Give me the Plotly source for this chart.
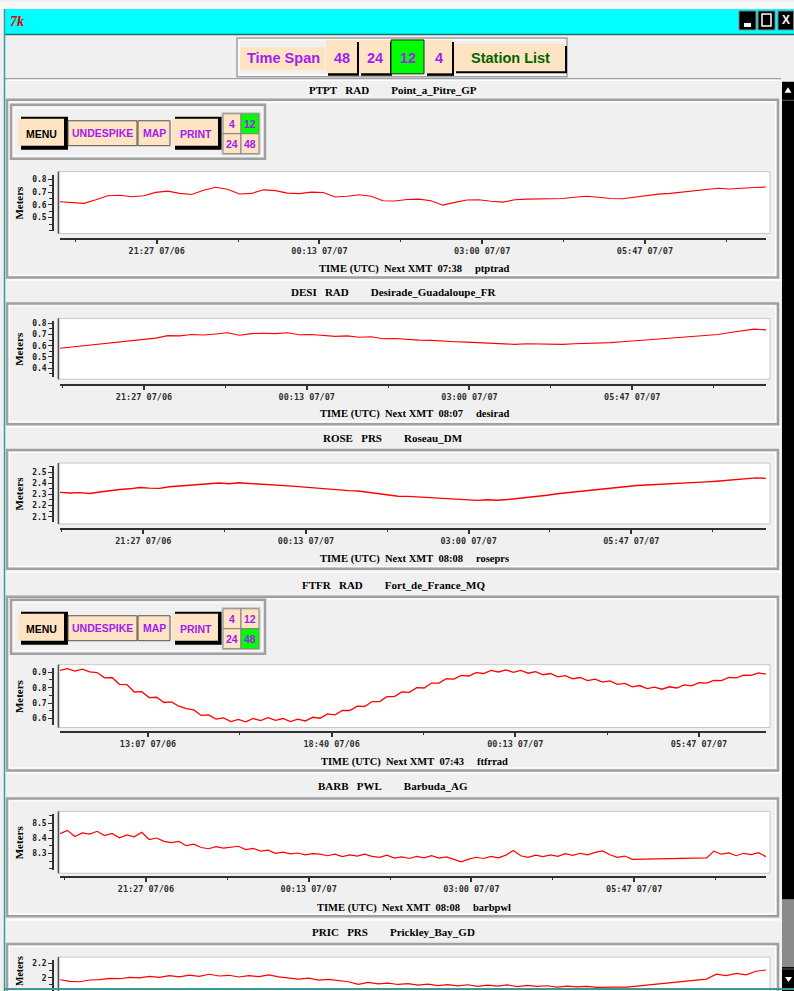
import plotly.graph_objects as go
import pandas as pd

# ---------------- data ----------------
station_codes = ["PTPT", "DESI", "ROSE", "FTFR", "BARB", "PRIC"]
sensor_types = ["RAD", "RAD", "PRS", "RAD", "PWL", "PRS"]
station_names = ["Point_a_Pitre_GP", "Desirade_Guadaloupe_FR", "Roseau_DM",
                 "Fort_de_France_MQ", "Barbuda_AG", "Prickley_Bay_GD"]
next_xmt = ["07:38", "08:07", "08:08", "07:43", "08:08", ""]
file_ids = ["ptptrad", "desirad", "roseprs", "ftfrrad", "barbpwl", ""]

time_start = ["2024-07-06 19:48:00", "2024-07-06 20:01:00", "2024-07-06 20:01:40",
              "2024-07-06 10:27:20", "2024-07-06 19:59:00", "2024-07-06 19:59:00"]
time_end = ["2024-07-07 07:51:00", "2024-07-07 08:04:00", "2024-07-07 08:05:00",
            "2024-07-07 07:48:40", "2024-07-07 08:02:00", "2024-07-07 08:02:00"]

ptpt_m = [0.625, 0.618, 0.612, 0.640, 0.672, 0.676, 0.664, 0.672, 0.698, 0.708,
          0.690, 0.682, 0.715, 0.738, 0.722, 0.685, 0.690, 0.718, 0.712, 0.692,
          0.688, 0.700, 0.697, 0.662, 0.668, 0.680, 0.668, 0.632, 0.630, 0.642,
          0.645, 0.632, 0.598, 0.620, 0.638, 0.640, 0.628, 0.622, 0.640, 0.645,
          0.646, 0.648, 0.650, 0.660, 0.668, 0.660, 0.650, 0.648, 0.660, 0.672,
          0.684, 0.690, 0.700, 0.712, 0.722, 0.730, 0.725, 0.728, 0.736, 0.740]

desi_m = [0.578, 0.590, 0.598, 0.612, 0.622, 0.632, 0.648, 0.656, 0.668, 0.690,
          0.688, 0.700, 0.696, 0.705, 0.716, 0.694, 0.708, 0.712, 0.708, 0.716,
          0.698, 0.700, 0.694, 0.684, 0.688, 0.676, 0.680, 0.662, 0.664, 0.656,
          0.650, 0.648, 0.640, 0.636, 0.632, 0.626, 0.620, 0.618, 0.612, 0.618,
          0.614, 0.616, 0.612, 0.618, 0.620, 0.622, 0.628, 0.636, 0.644, 0.650,
          0.656, 0.664, 0.670, 0.680, 0.690, 0.700, 0.718, 0.730, 0.748, 0.742]

rose_m = [2.318, 2.312, 2.316, 2.308, 2.322, 2.336, 2.344, 2.350, 2.362, 2.356,
          2.354, 2.368, 2.374, 2.382, 2.388, 2.398, 2.402, 2.396, 2.404, 2.398,
          2.394, 2.390, 2.380, 2.376, 2.370, 2.362, 2.356, 2.350, 2.340, 2.334,
          2.330, 2.318, 2.304, 2.296, 2.284, 2.282, 2.276, 2.272, 2.266, 2.262,
          2.256, 2.250, 2.246, 2.252, 2.248, 2.254, 2.262, 2.272, 2.282, 2.292,
          2.306, 2.316, 2.326, 2.334, 2.346, 2.352, 2.366, 2.374, 2.380, 2.384,
          2.388, 2.390, 2.396, 2.400, 2.408, 2.412, 2.418, 2.424, 2.432, 2.440,
          2.448, 2.444]

ftfr_m = [0.912, 0.924, 0.908, 0.920, 0.902, 0.898, 0.864, 0.866, 0.822, 0.820,
          0.772, 0.774, 0.736, 0.738, 0.704, 0.708, 0.680, 0.664, 0.656, 0.620,
          0.624, 0.596, 0.604, 0.580, 0.594, 0.578, 0.600, 0.586, 0.606, 0.588,
          0.600, 0.580, 0.596, 0.584, 0.608, 0.602, 0.630, 0.624, 0.652, 0.652,
          0.680, 0.678, 0.710, 0.710, 0.742, 0.742, 0.772, 0.770, 0.800, 0.798,
          0.830, 0.830, 0.858, 0.856, 0.880, 0.876, 0.898, 0.892, 0.912, 0.902,
          0.916, 0.900, 0.912, 0.894, 0.904, 0.884, 0.892, 0.870, 0.878, 0.858,
          0.866, 0.846, 0.856, 0.836, 0.844, 0.822, 0.828, 0.806, 0.814, 0.794,
          0.804, 0.790, 0.806, 0.798, 0.818, 0.812, 0.832, 0.830, 0.848, 0.846,
          0.866, 0.864, 0.882, 0.880, 0.896, 0.888]

barb_m = [8.430, 8.452, 8.412, 8.436, 8.428, 8.446, 8.418, 8.432, 8.404, 8.422,
          8.410, 8.440, 8.392, 8.402, 8.380, 8.372, 8.380, 8.352, 8.362, 8.340,
          8.332, 8.346, 8.336, 8.344, 8.348, 8.326, 8.334, 8.316, 8.322, 8.302,
          8.310, 8.298, 8.304, 8.292, 8.300, 8.296, 8.286, 8.296, 8.280, 8.292,
          8.284, 8.296, 8.282, 8.276, 8.290, 8.270, 8.278, 8.268, 8.282, 8.272,
          8.286, 8.270, 8.278, 8.262, 8.246, 8.264, 8.276, 8.268, 8.282, 8.272,
          8.290, 8.320, 8.286, 8.276, 8.290, 8.280, 8.292, 8.282, 8.300, 8.288,
          8.302, 8.292, 8.308, 8.318, 8.292, 8.276, 8.284, 8.262,
          None, None, None, None, None, None, None, None, None,
          8.272, 8.316, 8.296, 8.304, 8.286, 8.302, 8.294, 8.306, 8.280]

pric_m = [1.972, 1.950, 1.944, 1.968, 1.974, 1.992, 1.986, 2.006, 1.998, 2.018,
          2.004, 2.030, 2.012, 2.036, 2.020, 2.048, 2.024, 2.034, 2.010, 2.028,
          2.016, 2.040, 2.012, 1.996, 1.980, 1.994, 1.966, 1.978, 1.958, 1.944,
          1.908, 1.934, 1.914, 1.926, 1.906, 1.918, 1.896, 1.912, 1.890, 1.904,
          1.886, 1.902, 1.880, 1.898, 1.884, 1.900, 1.876, 1.894, 1.880, 1.888,
          1.870, 1.884, 1.872, 1.880, 1.866, 1.872, 1.868, 1.870,
          None, None, None, None, None, None, None,
          1.980, 2.050, 2.030, 2.060, 2.040, 2.090, 2.108]

series_values = [ptpt_m, desi_m, rose_m, ftfr_m, barb_m, pric_m]

# x-axis tick labels
tick12_vals = ["2024-07-06 21:27:00", "2024-07-07 00:13:40", "2024-07-07 03:00:20", "2024-07-07 05:47:00"]
tick12_text = ["21:27 07/06", "00:13 07/07", "03:00 07/07", "05:47 07/07"]
minor12_vals = ["2024-07-06 20:03:40", "2024-07-06 22:50:20", "2024-07-07 01:37:00",
                "2024-07-07 04:23:40", "2024-07-07 07:10:20"]
tick48_vals = ["2024-07-06 13:07:00", "2024-07-06 18:40:20", "2024-07-07 00:13:40", "2024-07-07 05:47:00"]
tick48_text = ["13:07 07/06", "18:40 07/06", "00:13 07/07", "05:47 07/07"]
minor48_vals = ["2024-07-06 15:53:40", "2024-07-06 21:27:00", "2024-07-07 03:00:20"]

# y-axis tick labels
ytick_vals = [[0.5, 0.6, 0.7, 0.8], [0.4, 0.5, 0.6, 0.7, 0.8], [2.1, 2.2, 2.3, 2.4, 2.5],
              [0.6, 0.7, 0.8, 0.9], [8.3, 8.4, 8.5], [2.0, 2.2]]
ytick_text = [["0.5", "0.6", "0.7", "0.8"], ["0.4", "0.5", "0.6", "0.7", "0.8"],
              ["2.1", "2.2", "2.3", "2.4", "2.5"], ["0.6", "0.7", "0.8", "0.9"],
              ["8.3", "8.4", "8.5"], ["2", "2.2"]]
span_labels = ["48", "24", "12", "4"]
grid_labels = ["4", "12", "24", "48"]

# ---------------- layout helpers ----------------
W, H = 794, 991
BISQUE = "#ffe4c4"
PURPLE = "#a020f0"
GREEN = "#00ff00"
BG = "#f0f0f0"
GRAY = "#a0a0a0"
TEAL = "#3a9a9a"
NB = "\u00a0"


def px(x):
    return x / W


def py(y):
    return 1 - y / H


shapes = []
annotations = []


def rect(x0, y0, x1, y1, fill=None, line=None, lw=1, layer="below"):
    shapes.append(dict(type="rect", xref="paper", yref="paper",
                       x0=px(x0), x1=px(x1), y0=py(y1), y1=py(y0),
                       fillcolor=fill if fill else "rgba(0,0,0,0)",
                       line=dict(color=line if line else "rgba(0,0,0,0)", width=lw if line else 0),
                       layer=layer))


def seg(x0, y0, x1, y1, color, lw=1, layer="below"):
    shapes.append(dict(type="line", xref="paper", yref="paper",
                       x0=px(x0), x1=px(x1), y0=py(y0), y1=py(y1),
                       line=dict(color=color, width=lw), layer=layer))


def poly(points, fill, layer="below"):
    p = "M " + " L ".join(f"{px(a):.5f},{py(b):.5f}" for a, b in points) + " Z"
    shapes.append(dict(type="path", xref="paper", yref="paper", path=p,
                       fillcolor=fill, line=dict(width=0), layer=layer))


def text(x, y, s, size, color="black", family="Liberation Sans", bold=True,
         xanchor="center", italic=False, angle=0):
    annotations.append(dict(x=px(x), y=py(y), xref="paper", yref="paper", text=s,
                            showarrow=False, xanchor=xanchor, yanchor="middle",
                            textangle=angle, borderpad=0,
                            font=dict(size=size, color=color, family=family,
                                      weight="bold" if bold else "normal",
                                      style="italic" if italic else "normal")))


# ---------------- window chrome ----------------
rect(0, 0, W, 7, fill="#f8f8f8")
rect(5, 7, W, 32, fill="#00ffff")
seg(5, 32.5, W, 32.5, "#1f6f6f", 1.5)
seg(4.5, 7, 4.5, H, TEAL, 1.5)
text(17, 20, "7k", 14, "#e00000", "Liberation Serif", True, italic=True)
# title bar buttons
rect(739, 9, 756, 28, fill="black", line="#808080", lw=1)
rect(744, 21, 751, 25, fill="white")
rect(758, 9, 775, 28, fill="black", line="#808080", lw=1)
rect(762, 12, 771, 24, line="white", lw=1.5)
rect(778, 9, 793.5, 28, fill="black", line="#808080", lw=1)
text(785.5, 18.5, "X", 12, "white", "Liberation Sans", True)

# top toolbar
rect(237, 36, 567, 75, fill=BG, line=GRAY, lw=1.5)
rect(239, 38, 565, 73, line="white", lw=1)
rect(240, 45, 325, 68, fill=BISQUE)
text(283, 56.5, "Time Span", 14.5, PURPLE)
span_x = [(326, 357), (359, 390), (392, 424), (425, 452)]
for lab, (a, b) in zip(span_labels, span_x):
    if lab == "12":
        rect(a - 1, 38, b, 72, fill=GREEN, line="#202020", lw=1)
    else:
        rect(a + 2, 40, b + 2, 74, fill="black")
        rect(a, 38, b, 71.5, fill=BISQUE)
    text((a + b) / 2, 56.5, lab, 14.5, PURPLE)
rect(456, 44, 567, 71.5, fill="black")
rect(454, 42, 565, 69.5, fill=BISQUE)
text(510, 56.5, "Station List", 14.5, "#006400")
seg(5, 77, 781, 77, GRAY, 1.5)

# scrollbar
rect(782, 80, W, 991, fill="black")
poly([(784.5, 91), (791.5, 91), (788, 85.5)], "white")
seg(782, 98.5, W, 98.5, "#606060", 1)
rect(782, 899, W, 967, fill="#8a8a8a")
seg(782, 969, W, 969, "#606060", 1)
poly([(785, 977), (792, 977), (788.5, 982)], "white")

# ---------------- panels ----------------
panels = [
    dict(hdr=(78, 97), hy=88, box=(98, 276), white=(170, 232), ydom=(173, 229), xline=237, ty=268,
         yr=(0.399, 0.837), grp=103, sel="12"),
    dict(hdr=(278, 301), hy=291, box=(302, 423), white=(317, 378), ydom=(320, 376), xline=384, ty=413,
         yr=(0.318, 0.818), grp=None, sel=None),
    dict(hdr=(425, 448), hy=437, box=(449, 568), white=(462, 523), ydom=(465, 521), xline=528, ty=558,
         yr=(2.053, 2.554), grp=None, sel=None),
    dict(hdr=(571, 595), hy=584, box=(596, 770), white=(664, 727), ydom=(667, 724), xline=731, ty=762,
         yr=(0.561, 0.930), grp=599, sel="48"),
    dict(hdr=(772, 797), hy=786, box=(798, 916), white=(811, 873), ydom=(814, 870), xline=877, ty=908,
         yr=(8.191, 8.557), grp=None, sel=None),
    dict(hdr=(919, 943), hy=932, box=(944, 1010), white=(957, 1020), ydom=(960, 991), xline=None, ty=None,
         yr=(1.815, 2.246), grp=None, sel=None),
]
line_widths = [1.1, 1.1, 1.4, 1.3, 1.2, 1.2]


def button_group(y0, sel):
    rect(11, y0, 265, y0 + 54, fill=BG, line=GRAY, lw=2.5)
    rect(14, y0 + 3, 262, y0 + 51, line="white", lw=1)
    # MENU
    rect(21, y0 + 12, 68, y0 + 45, fill="black")
    rect(18, y0 + 14, 64, y0 + 41, fill=BISQUE)
    text(41, y0 + 29, "MENU", 10.5, "black")
    # UNDESPIKE / MAP
    rect(68, y0 + 16, 137, y0 + 41, fill=BISQUE, line="#505050", lw=1)
    text(102.5, y0 + 28, "UNDESPIKE", 10.5, PURPLE)
    rect(138, y0 + 16, 170, y0 + 41, fill=BISQUE, line="#505050", lw=1)
    text(154, y0 + 28, "MAP", 10.5, PURPLE)
    # PRINT
    rect(175, y0 + 12, 223, y0 + 45, fill="black")
    rect(172, y0 + 14, 218, y0 + 41, fill=BISQUE)
    text(196, y0 + 29, "PRINT", 10.5, PURPLE)
    # span grid
    cells = [(223, 241, 9, 29), (241, 259, 9, 29), (223, 241, 29, 49), (241, 259, 29, 49)]
    rect(222, y0 + 8, 260, y0 + 50, fill="white", line="#c0c0c0", lw=1)
    for lab, (a, b, c, d) in zip(grid_labels, cells):
        rect(a, y0 + c, b, y0 + d, fill=GREEN if lab == sel else BISQUE, line="#808080", lw=1)
        text((a + b) / 2, y0 + (c + d) / 2, lab, 10.5, PURPLE)


fig = go.Figure()
layout_axes = {}

for i, g in enumerate(panels):
    n = i + 1
    h0, h1 = g["hdr"]
    seg(7, h0 + 0.5, 781, h0 + 0.5, "white", 1.5)
    b0, b1 = g["box"]
    rect(7, b0, 778, b1, fill=BG, line=GRAY, lw=2.5)
    rect(9.5, b0 + 2.5, 775.5, b1 - 2.5, line="white", lw=1)
    label = f"{station_codes[i]}{NB*3}{sensor_types[i]}{NB*8}{station_names[i]}"
    text(393, g["hy"], label, 11, "black", "Liberation Serif")
    if g["grp"] is not None:
        button_group(g["grp"], g["sel"])
    w0, w1 = g["white"]
    rect(58, w0, 770, w1, fill="white", line="#c8c8c8", lw=1)
    seg(58.5, w0, 58.5, w1, "#505050", 1.5)
    if n < 6:
        text(19, (w0 + w1) / 2, "Meters", 11, "black", "Liberation Serif", True, angle=-90)
    else:
        text(19, 971, "Meters", 10, "black", "Liberation Serif", True, angle=-90)
    if g["ty"] is not None:
        title = f"TIME (UTC){NB*2}Next XMT{NB*2}{next_xmt[i]}{NB*5}{file_ids[i]}"
        text(414, g["ty"], title, 10.5, "black", "Liberation Serif")

    vals = series_values[i]
    t = pd.date_range(time_start[i], time_end[i], periods=len(vals))
    xs = "x" if n == 1 else f"x{n}"
    ys = "y" if n == 1 else f"y{n}"
    fig.add_trace(go.Scatter(x=t, y=vals, mode="lines", connectgaps=True,
                             line=dict(color="#ff0000", width=line_widths[i]),
                             xaxis=xs, yaxis=ys, showlegend=False, hoverinfo="skip"))

    is48 = (i == 3)
    xa = dict(domain=[px(60), px(766)], range=[time_start[i], time_end[i]], type="date",
              anchor="free", position=py(g["xline"]) if g["xline"] else 0.0,
              showline=True, linecolor="#303030", linewidth=2,
              ticks="outside", ticklen=4, tickwidth=1.5, tickcolor="#303030",
              tickmode="array",
              tickvals=tick48_vals if is48 else tick12_vals,
              ticktext=tick48_text if is48 else tick12_text,
              tickfont=dict(family="DejaVu Sans Mono", size=8.5, color="#303030", weight="bold"),
              minor=dict(tickmode="array", tickvals=minor48_vals if is48 else minor12_vals,
                         ticks="outside", ticklen=2, tickwidth=1, tickcolor="#303030"),
              showgrid=False, zeroline=False, fixedrange=True,
              visible=g["xline"] is not None)
    yd0, yd1 = g["ydom"]
    ya = dict(domain=[max(0.0, py(yd1)), py(yd0)], range=list(g["yr"]),
              anchor="free", position=px(53),
              showline=True, linecolor="#303030", linewidth=1.5,
              ticks="outside", ticklen=4, tickwidth=1.2, tickcolor="#303030",
              tickmode="array", tickvals=ytick_vals[i], ticktext=ytick_text[i],
              tickfont=dict(family="DejaVu Sans Mono", size=8, color="#202020", weight="bold"),
              minor=dict(tickmode="linear", tick0=0, dtick=0.1 if n == 6 else 0.05,
                         ticks="outside", ticklen=3, tickwidth=1, tickcolor="#303030"),
              showgrid=False, zeroline=False, fixedrange=True)
    layout_axes["xaxis" if n == 1 else f"xaxis{n}"] = xa
    layout_axes["yaxis" if n == 1 else f"yaxis{n}"] = ya

# bottom window border
seg(4, 989, W, 989, TEAL, 2, layer="above")

fig.update_layout(width=W, height=H, autosize=False,
                  margin=dict(l=0, r=0, t=0, b=0),
                  paper_bgcolor=BG, plot_bgcolor="rgba(0,0,0,0)",
                  shapes=shapes, annotations=annotations, showlegend=False,
                  **layout_axes)

fig.write_html("out.html", config={"displayModeBar": False},
               post_script="document.body.style.margin='0px';document.body.style.overflow='hidden';")
